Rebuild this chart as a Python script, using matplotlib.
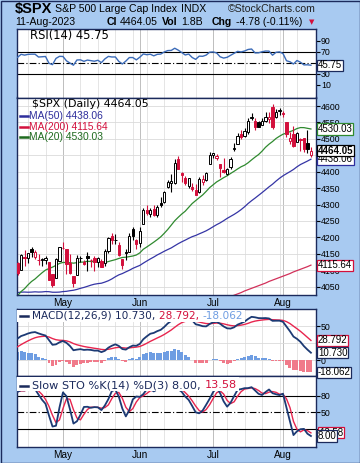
import numpy as np
import pandas as pd
import matplotlib
matplotlib.use("Agg")
import matplotlib.pyplot as plt
import matplotlib.transforms as mtransforms
from matplotlib.patches import Rectangle
from matplotlib.lines import Line2D

# ---------------- data ----------------
holidays = ["2023-05-29", "2023-06-19", "2023-07-04"]
dates = pd.bdate_range("2023-04-12", "2023-08-11")
dates = dates[~dates.isin(pd.to_datetime(holidays))]

opens = [4121.72, 4100.04, 4140.11, 4137.17, 4164.26, 4139.33, 4130.48, 4132.14, 4132.07, 4126.43, 4087.78, 4075.29, 4129.63,
         4166.79, 4164.10, 4122.25, 4082.61, 4084.73, 4136.98, 4124.25, 4143.74, 4132.24, 4138.54, 4126.65, 4127.95, 4122.85,
         4157.68, 4204.15, 4190.78, 4176.80, 4132.96, 4155.71, 4156.16, 4226.71, 4190.74,
         4183.03, 4241.01, 4282.99, 4271.34, 4285.47, 4268.69, 4304.88, 4308.32, 4352.61, 4366.29, 4365.33, 4440.00, 4396.11,
         4380.01, 4355.40, 4354.17, 4344.84, 4337.36, 4367.48, 4374.94, 4422.44,
         4450.48, 4442.04, 4422.62, 4404.54, 4394.23, 4415.55, 4467.69, 4485.32, 4514.61, 4508.86, 4521.78, 4563.87, 4554.38,
         4550.16, 4543.39, 4555.19, 4558.96, 4598.26, 4565.75, 4584.82,
         4578.83, 4550.93, 4494.27, 4513.96, 4491.58, 4498.03, 4501.57, 4487.16, 4450.69]
highs = [4124.43, 4150.26, 4163.19, 4151.72, 4169.48, 4162.57, 4148.57, 4138.02, 4142.41, 4126.43, 4089.67, 4138.24, 4170.06,
         4186.92, 4164.10, 4148.30, 4082.61, 4147.02, 4142.30, 4130.35, 4154.28, 4132.80, 4143.74, 4141.25, 4135.54, 4164.67,
         4202.20, 4212.91, 4209.22, 4185.68, 4132.96, 4165.74, 4212.87, 4231.10, 4195.44,
         4232.43, 4290.67, 4299.28, 4288.33, 4299.19, 4298.01, 4322.62, 4340.13, 4375.37, 4391.82, 4439.20, 4448.47, 4400.15,
         4386.22, 4382.25, 4366.55, 4362.06, 4384.42, 4390.35, 4398.39, 4458.48,
         4456.46, 4454.06, 4422.62, 4440.39, 4412.60, 4443.64, 4488.34, 4517.38, 4527.76, 4532.85, 4562.30, 4578.43, 4564.74,
         4555.00, 4563.41, 4580.62, 4582.47, 4607.07, 4590.16, 4594.22,
         4584.62, 4550.93, 4519.49, 4540.34, 4519.84, 4503.31, 4502.44, 4527.37, 4476.23]
lows = [4086.94, 4099.40, 4113.20, 4123.18, 4140.36, 4134.49, 4114.57, 4113.86, 4117.77, 4071.38, 4049.35, 4075.29, 4127.18,
        4164.12, 4089.72, 4088.86, 4048.28, 4084.73, 4123.81, 4116.65, 4098.92, 4109.29, 4099.12, 4110.27, 4109.86, 4113.62,
        4153.50, 4180.20, 4179.68, 4142.54, 4103.98, 4129.73, 4156.16, 4192.18, 4166.15,
        4171.64, 4241.01, 4266.82, 4263.09, 4263.96, 4261.07, 4291.70, 4304.37, 4349.31, 4337.85, 4362.60, 4407.44, 4367.19,
        4360.14, 4351.82, 4341.34, 4328.08, 4335.00, 4360.22, 4371.97, 4422.44,
        4442.29, 4436.61, 4385.05, 4397.40, 4389.92, 4408.46, 4463.23, 4483.36, 4499.56, 4504.90, 4514.59, 4557.48, 4527.56,
        4535.79, 4541.29, 4552.42, 4547.58, 4528.56, 4564.01, 4573.14,
        4567.53, 4505.75, 4485.54, 4474.55, 4491.15, 4464.39, 4461.33, 4457.92, 4443.98]
closes = [4091.95, 4146.22, 4137.64, 4151.32, 4154.87, 4154.52, 4129.79, 4133.52, 4137.04, 4071.63, 4055.99, 4135.35, 4169.48,
          4167.87, 4119.58, 4090.75, 4061.22, 4136.25, 4138.12, 4119.17, 4137.64, 4130.62, 4124.08, 4136.28, 4109.90, 4158.77,
          4198.05, 4191.98, 4192.63, 4145.58, 4115.24, 4151.28, 4205.45, 4205.52, 4179.83,
          4221.02, 4282.37, 4273.79, 4283.85, 4267.52, 4293.93, 4298.86, 4338.93, 4369.01, 4372.59, 4425.84, 4409.59, 4388.71,
          4365.69, 4381.89, 4348.33, 4328.82, 4378.41, 4376.86, 4396.44, 4450.38,
          4455.59, 4446.82, 4411.59, 4398.95, 4409.53, 4439.26, 4472.16, 4510.04, 4505.42, 4522.79, 4554.98, 4565.72, 4534.87,
          4536.34, 4554.64, 4567.46, 4566.75, 4537.41, 4582.23, 4588.96,
          4576.73, 4513.39, 4501.89, 4478.03, 4518.44, 4499.38, 4467.71, 4468.83, 4464.05]

# closes before the first bar (31-Jan .. 11-Apr), used to warm up the indicators
prior_close = [4076.60, 4119.21, 4179.76, 4136.48, 4111.08, 4164.00, 4117.86, 4081.50, 4090.46, 4137.29, 4136.13, 4147.60,
               4090.41, 4079.09, 3997.34, 3991.05, 4012.32, 3970.04, 3982.24, 3970.15, 3951.39, 3981.35, 4045.64, 4048.42,
               3986.37, 3992.01, 3918.32, 3861.59, 3855.76, 3919.29, 3891.93, 3960.28, 3916.64, 3951.57, 4002.87, 3936.97,
               3948.72, 3970.99, 3977.53, 3971.27, 4027.81, 4050.83, 4109.31, 4124.51, 4100.60, 4090.38, 4105.02, 4109.11,
               4108.94]
# highs / lows 17-Mar .. 11-Apr
prior_high = [3958.91, 3956.62, 4009.08, 4003.48, 4039.49, 3972.74, 3996.00, 3979.89, 4030.59, 4055.11, 4110.75, 4128.03,
              4133.13, 4099.69, 4107.26, 4109.50, 4124.26]
prior_low = [3901.27, 3916.89, 3971.19, 3936.16, 3922.45, 3909.16, 3969.70, 3951.53, 3999.53, 4032.00, 4056.18, 4086.87,
             4086.87, 4072.56, 4069.84, 4072.55, 4102.61]

# 200-day MA
ma200 = [3940, 3941, 3942, 3943, 3944, 3945, 3945, 3946, 3947, 3947, 3948, 3949, 3950,
         3951, 3951, 3952, 3952, 3953, 3953, 3954, 3954, 3955, 3955, 3956, 3956, 3957, 3957, 3958, 3958, 3959, 3959, 3960,
         3960, 3961, 3961,
         3962, 3963, 3964, 3965, 3966, 3967, 3969, 3971, 3973, 3975, 3977, 3979, 3981, 3983, 3985, 3987, 3989, 3991, 3993,
         3995, 3998,
         4001, 4005, 4008, 4012, 4016, 4020, 4024, 4028, 4032, 4037, 4041, 4045, 4049, 4053, 4057, 4061, 4066, 4070, 4074,
         4078,
         4082, 4086, 4090, 4095, 4099, 4103, 4107, 4111, 4115.64]

# right-axis ticks (labels hidden behind value tags are left blank, as on the chart)
price_ticks = list(range(4050, 4601, 50))
price_labels = ["" if t == 4450 else str(t) for t in price_ticks]
rsi_ticks = [10, 30, 70, 90]
macd_ticks = [0, 25, 50]
macd_labels = ["0", "", "50"]
sto_ticks = [20, 50, 80]

# ---------------- indicators ----------------
o, h, l, c = map(np.array, (opens, highs, lows, closes))
n = len(c)
x = np.arange(n)
allc = pd.Series(prior_close + closes)
ma20 = allc.rolling(20).mean().values[-n:]
ma50 = allc.rolling(50).mean().values[-n:]

dlt = allc.diff()
up = dlt.clip(lower=0).ewm(alpha=1 / 14, adjust=False).mean()
dn = (-dlt.clip(upper=0)).ewm(alpha=1 / 14, adjust=False).mean()
rsi = (100 - 100 / (1 + up / dn)).values[-n:]

macd_s = allc.ewm(span=12, adjust=False).mean() - allc.ewm(span=26, adjust=False).mean()
sig_s = macd_s.ewm(span=9, adjust=False).mean()
macd = macd_s.values[-n:]
sig = sig_s.values[-n:]
hist = macd - sig

hh = pd.Series(prior_high + highs)
ll = pd.Series(prior_low + lows)
cc = pd.Series(prior_close[-17:] + closes)
fastk = 100 * (cc - ll.rolling(14).min()) / (hh.rolling(14).max() - ll.rolling(14).min())
slowk = fastk.rolling(3).mean()
slowd = slowk.rolling(3).mean()
stok = slowk.values[-n:]
stod = slowd.values[-n:]

month_idx = [i for i in range(1, n) if dates[i].month != dates[i - 1].month]
month_lab = [dates[i].strftime("%b") for i in month_idx]
week_idx = [i for i in range(1, n) if dates[i].weekday() < dates[i - 1].weekday()]

# ---------------- figure ----------------
W, H = 360, 463
BG = "#A8CAF1"
NAVY = "#1B2A5C"
RED = "#D3103C"
BLUE = "#2E2E9C"
GREEN = "#2F8A2F"
L, R = 16.7, 316.0
XL = (-0.25, 85.45)

fig = plt.figure(figsize=(W / 100, H / 100), dpi=100, facecolor=BG)


def fx(px):
    return px / W


def fy(py):
    return 1 - py / H


def panel(top, bottom):
    ax = fig.add_axes([fx(L), fy(bottom), (R - L) / W, (bottom - top) / H])
    ax.set_facecolor("white")
    for s in ax.spines.values():
        s.set_color(NAVY)
        s.set_linewidth(1.0)
    ax.set_xlim(*XL)
    ax.yaxis.tick_right()
    ax.tick_params(axis="y", direction="out", length=3, width=0.8, pad=0.5, labelsize=6.3,
                   labelfontfamily="Liberation Sans")
    ax.tick_params(axis="x", length=0, labelsize=7.2, pad=2.5, labelfontfamily="Liberation Sans")
    for i in week_idx:
        ax.axvline(i, color="#E0E0E0", lw=0.6, zorder=0)
    for i in month_idx:
        ax.axvline(i, color="#BEBEBE", lw=0.7, zorder=0)
    ax.set_xticks([])
    return ax


ax_r = panel(29.3, 97.5)
ax_p = panel(97.5, 295)
ax_m = panel(309, 376)
ax_s = panel(376, 447)

# RSI
ax_r.set_ylim(-12.6, 110.6)
ax_r.set_yticks(rsi_ticks)
ax_r.axhline(70, color="black", lw=0.8)
ax_r.axhline(30, color="black", lw=0.8)
ax_r.axhline(50, color="black", lw=0.8, ls=(0, (6, 2, 1, 2)))
ax_r.plot(x, rsi, color="#3B6BB8", lw=1.0, zorder=3)

# price
ax_p.set_ylim(4024.7, 4625.9)
ax_p.set_yticks(price_ticks)
ax_p.set_yticklabels(price_labels)
ax_p.grid(axis="y", color="#DADADA", lw=0.6)
ax_p.set_axisbelow(True)
ax_p.plot(x, ma200, color="#D2305A", lw=0.9, zorder=2)
ax_p.plot(x, ma50, color="#3535A5", lw=0.9, zorder=2)
ax_p.plot(x, ma20, color=GREEN, lw=0.9, zorder=2)
prev = np.r_[prior_close[-1], c[:-1]]
for i in range(n):
    col = "black" if c[i] >= prev[i] else RED
    hollow = c[i] > o[i]
    ax_p.vlines(i, l[i], h[i], color=col, lw=0.8, zorder=3)
    ax_p.add_patch(Rectangle((i - 0.33, min(o[i], c[i])), 0.66, max(abs(c[i] - o[i]), 0.8),
                             fc="white" if hollow else col, ec=col, lw=0.7, zorder=4))
ax_p.set_xticks(month_idx)
ax_p.set_xticklabels(month_lab)

# MACD
ax_m.set_ylim(-23.5, 75)
ax_m.set_yticks(macd_ticks)
ax_m.set_yticklabels(macd_labels)
ax_m.grid(axis="y", color="#DADADA", lw=0.6)
ax_m.set_axisbelow(True)
ax_m.bar(x, hist, width=0.85, color=np.where(hist >= 0, "#6E9DE2", "#F07A8A"), zorder=2)
ax_m.plot(x, sig, color="#E8254E", lw=1.0, zorder=3)
ax_m.plot(x, macd, color="#1C3A74", lw=1.3, zorder=4)

# slow stochastic
ax_s.set_ylim(-11.6, 115)
ax_s.set_yticks(sto_ticks)
ax_s.axhline(80, color="black", lw=0.8)
ax_s.axhline(20, color="black", lw=0.8)
ax_s.axhline(50, color="black", lw=0.8, ls=(0, (6, 2, 1, 2)))
ax_s.plot(x, stod, color="#E8254E", lw=1.0, zorder=3)
ax_s.plot(x, stok, color="#1C3A74", lw=1.3, zorder=4)
ax_s.set_xticks(month_idx)
ax_s.set_xticklabels(month_lab)

# ---------------- text ----------------
rend = fig.canvas.get_renderer()


def chain(px, py, parts, size=7.6, family="DejaVu Sans", weight="normal"):
    for s, col in parts:
        t = fig.text(fx(px), fy(py), s, color=col, fontsize=size, family=family, weight=weight,
                     va="center", ha="left", zorder=10)
        px += t.get_window_extent(rend).width
    return px


def marker(py, col):
    fig.add_artist(Line2D([fx(20), fx(28)], [fy(py), fy(py)], color=col, lw=1.8, zorder=10))


def whitebox(x0, y0, x1, y1):
    fig.add_artist(Rectangle((fx(x0), fy(y1)), (x1 - x0) / W, (y1 - y0) / H, transform=fig.transFigure,
                             fc="white", ec="none", zorder=8))


def tag(ax, val, txt, ec, weight="normal", dx=0):
    tr = mtransforms.blended_transform_factory(fig.transFigure, ax.transData)
    fig.text(fx(318 + dx), val, txt, transform=tr, fontsize=7.0, family="Liberation Sans", weight=weight,
             va="center", ha="left", zorder=12,
             bbox=dict(boxstyle="square,pad=0.06", fc="white", ec=ec, lw=0.9))


# header
chain(15, 8.5, [("$SPX", "black")], size=10.5, family="Liberation Sans", weight="bold")
chain(55, 8.5, [("S&P 500 Large Cap Index", "black")], size=7.6, family="Liberation Sans")
chain(181, 8.5, [("INDX", "black")], size=7.6, family="Liberation Sans")
fig.text(fx(316), fy(8.5), "\u00a9StockCharts.com", fontsize=7.6, family="Liberation Sans", ha="right",
         va="center", color="#222222")
chain(15, 22, [("11-Aug-2023", "black")], size=7.6, family="Liberation Sans")
chain(107, 22, [("Cl", "black")], size=7.6, family="Liberation Sans", weight="bold")
chain(120, 22, [("4464.05", "black")], size=7.6, family="Liberation Sans")
chain(162, 22, [("Vol", "black")], size=7.6, family="Liberation Sans", weight="bold")
chain(181, 22, [("1.8B", "black")], size=7.6, family="Liberation Sans")
chain(212, 22, [("Chg", "black")], size=7.6, family="Liberation Sans", weight="bold")
chain(236, 22, [("-4.78 (-0.11%)", "black")], size=7.6, family="Liberation Sans")
fig.text(fx(309), fy(22.5), "\u25bc", fontsize=5, color=RED, va="center", ha="left")

# panel legends
chain(30, 35, [("RSI(14) 45.75", "black")], size=8.3)
chain(32, 104, [("$SPX (Daily) 4464.05", "black")], size=7.9)
marker(116, BLUE)
chain(29, 116, [("MA(50) 4438.06", BLUE)], size=7.4, family="Liberation Sans")
marker(126.7, RED)
chain(29, 126.7, [("MA(200) 4115.64", RED)], size=7.4, family="Liberation Sans")
marker(137.3, "#1F6B1F")
chain(29, 137.3, [("MA(20) 4530.03", "#1F6B1F")], size=7.4, family="Liberation Sans")

end = chain(32, 316, [("MACD(12,26,9) ", NAVY), ("10.730, ", NAVY), ("28.792, ", RED), ("-18.062", "#6E9DE2")])
whitebox(17.2, 309.5, end + 2, 322)
marker(316, NAVY)
end = chain(32, 385.5, [("Slow STO %K(14) %D(3) ", NAVY), ("8.00, ", NAVY), ("13.58", RED)], size=8.1)
whitebox(17.2, 376.5, end + 2, 391)
marker(385.5, NAVY)

# value tags on the right
tag(ax_r, rsi[-1], "45.75", NAVY)
tag(ax_p, 4530.03, "4530.03", GREEN)
tag(ax_p, 4438.06, "4438.06", BLUE)
tag(ax_p, 4464.05, "4464.05", "black", weight="bold")
tag(ax_p, 4115.64, "4115.64", RED)
tag(ax_m, 28.792, "28.792", RED)
tag(ax_m, 10.730, "10.730", NAVY)
tag(ax_m, -18.062, "-18.062", NAVY)
tag(ax_s, 13.58, "13.58", RED, dx=1)
tag(ax_s, 8.00, "8.00", NAVY)

fig.add_artist(Rectangle((0.5 / W, 0.5 / H), (W - 1) / W, (H - 1) / H, transform=fig.transFigure,
                         fc="none", ec=NAVY, lw=1.0, zorder=20))

fig.savefig("out.png", dpi=100, facecolor=BG)
